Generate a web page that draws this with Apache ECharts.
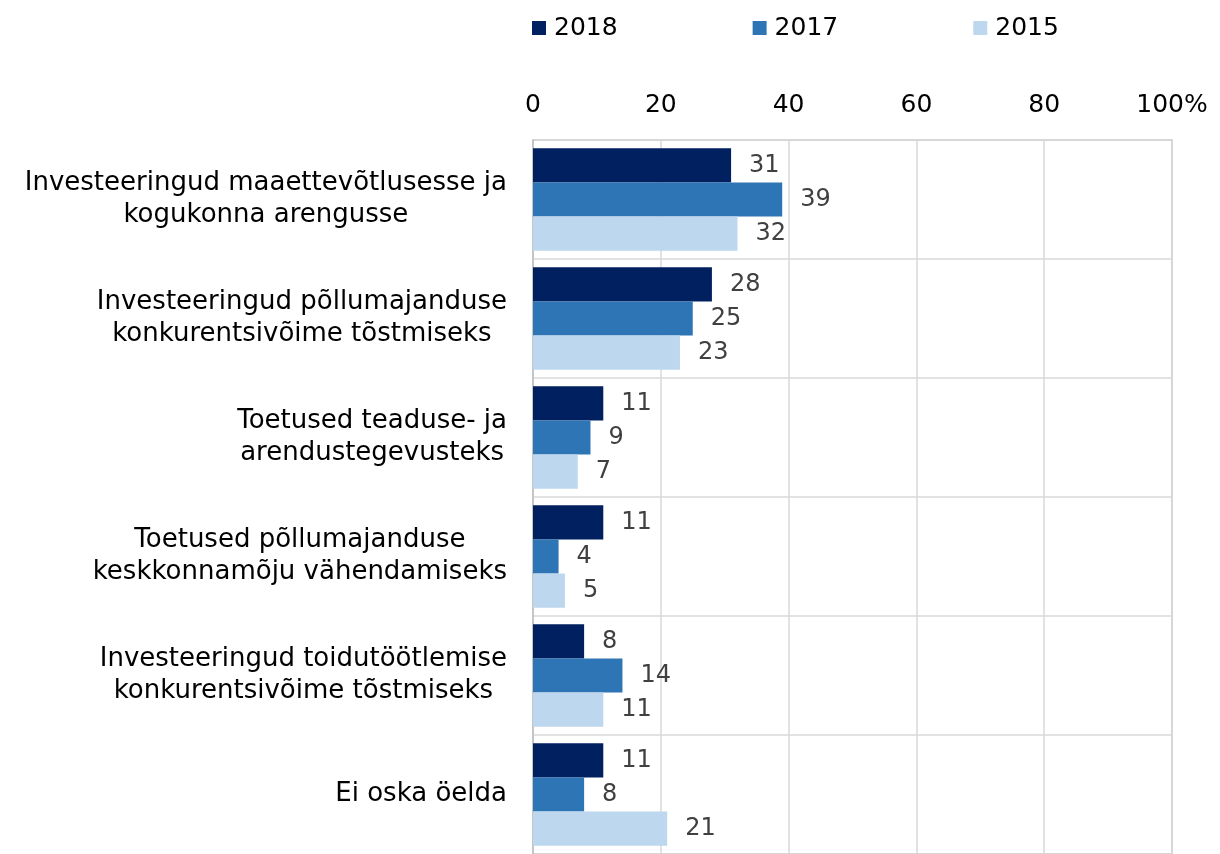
<!DOCTYPE html>
<html>
<head>
<meta charset="utf-8">
<script src="https://cdn.jsdelivr.net/npm/echarts@6/dist/echarts.min.js"></script>
<style>
  html, body { margin: 0; padding: 0; background: #fff; }
  #chart { width: 1220px; height: 854px; }
</style>
</head>
<body>
<div id="chart"></div>
<script>
(function () {
  'use strict';

  // category labels, top to bottom (each entry = lines of the label)
  const CATEGORIES = [
    ['Investeeringud maaettevõtlusesse ja', 'kogukonna arengusse'],
    ['Investeeringud põllumajanduse', 'konkurentsivõime tõstmiseks'],
    ['Toetused teaduse- ja', 'arendustegevusteks'],
    ['Toetused põllumajanduse', 'keskkonnamõju vähendamiseks'],
    ['Investeeringud toidutöötlemise', 'konkurentsivõime tõstmiseks'],
    ['Ei oska öelda'],
  ];

  const YEARS = ['2018', '2017', '2015'];
  const V2018 = [31, 28, 11, 11, 8, 11];
  const V2017 = [39, 25, 9, 4, 14, 8];
  const V2015 = [32, 23, 7, 5, 11, 21];
  const X_TICKS = [0, 20, 40, 60, 80, 100];

  const COLORS = ['#002060', '#2E75B6', '#BDD7EE'];
  const FONT = '"DejaVu Sans", Verdana, sans-serif';
  const GRIDLINE = '#d9d9d9';

  const catKeys = CATEGORIES.map(l => l.join('\n'));

  const bar = (name, data, color) => ({
    name, type: 'bar', data,
    barGap: '0%', barCategoryGap: '14%',
    itemStyle: { color },
    label: {
      show: true, position: 'right', distance: 18,
      color: '#404040', fontFamily: FONT, fontSize: 24,
    },
  });

  const chart = echarts.init(document.getElementById('chart'), null, { renderer: 'canvas' });
  chart.setOption({
    animation: false,
    backgroundColor: '#fff',
    textStyle: { fontFamily: FONT },
    legend: {
      data: YEARS, left: 527, top: 9, icon: 'rect',
      itemWidth: 14, itemHeight: 14, itemGap: 135,
      textStyle: { color: '#000', fontFamily: FONT, fontSize: 25, lineHeight: 28, padding: [0, 0, 0, 3] },
    },
    grid: {
      left: 533, right: 48, top: 140, bottom: -6,
      show: true, borderColor: '#c4c4c4', borderWidth: 1.5,
    },
    xAxis: {
      type: 'value', position: 'top', min: 0, max: 100, interval: 20,
      axisLine: { show: false }, axisTick: { show: false },
      splitLine: { lineStyle: { color: GRIDLINE, width: 1.5 } },
      axisLabel: {
        color: '#000', fontFamily: FONT, fontSize: 25, margin: 22,
        customValues: X_TICKS,
        formatter: v => (v === 100 ? '100%' : String(v)),
      },
    },
    yAxis: {
      type: 'category', inverse: true, data: catKeys,
      axisLine: { show: true, lineStyle: { color: '#bfbfbf', width: 1.5 } },
      axisTick: { show: false },
      splitLine: { show: true, interval: 0, lineStyle: { color: GRIDLINE, width: 1.5 } },
      axisLabel: {
        margin: 26, interval: 0, color: '#000',
        formatter: v => v.split('\n').map(l => '{c|' + l + '}').join('\n'),
        rich: {
          c: { align: 'center', color: '#000', fontFamily: FONT, fontSize: 26, lineHeight: 32 },
        },
      },
    },
    series: [
      bar(YEARS[0], V2018, COLORS[0]),
      bar(YEARS[1], V2017, COLORS[1]),
      bar(YEARS[2], V2015, COLORS[2]),
    ],
  });
})();
</script>
</body>
</html>
